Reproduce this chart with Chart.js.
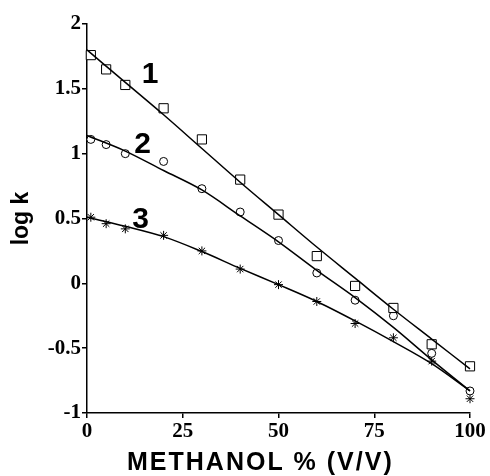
<!DOCTYPE html>
<html>
<head>
<meta charset="utf-8">
<script src="https://cdn.jsdelivr.net/npm/chart.js@4/dist/chart.umd.min.js"></script>
<style>
  html, body { margin: 0; padding: 0; background: #fff; }
  #wrap { width: 490px; height: 476px; }
</style>
</head>
<body>
<div id="wrap"><canvas id="myChart"></canvas></div>
<script>
// methanol % and measured log k for the three compounds
const methanol = [1, 5, 10, 20, 30, 40, 50, 60, 70, 80, 90, 100];
const logk1 = [1.76, 1.65, 1.53, 1.35, 1.11, 0.80, 0.53, 0.21, -0.02, -0.19, -0.47, -0.64];
const logk2 = [1.11, 1.07, 1.00, 0.94, 0.73, 0.55, 0.33, 0.08, -0.13, -0.25, -0.54, -0.83];
const logk3 = [0.51, 0.46, 0.42, 0.37, 0.25, 0.11, -0.01, -0.14, -0.31, -0.42, -0.60, -0.89];

// fitted curves
const fitX = [0, 10, 20, 30, 40, 50, 60, 70, 80, 90, 100];
const fit1 = [1.80, 1.55, 1.30, 1.04, 0.78, 0.53, 0.28, 0.04, -0.20, -0.43, -0.66];
const fit2 = [1.14, 1.02, 0.87, 0.72, 0.52, 0.32, 0.10, -0.11, -0.34, -0.59, -0.83];
const fit3 = [0.51, 0.44, 0.36, 0.245, 0.115, -0.01, -0.14, -0.29, -0.45, -0.62, -0.83];

const curveNames = ['1', '2', '3'];
const xTicks = [0, 25, 50, 75, 100];
const yTicks = [2, 1.5, 1, 0.5, 0, -0.5, -1];
const xTitle = 'METHANOL % (V/V)';
const yTitle = 'log k';

function pts(xs, ys) {
  return xs.map((x, i) => ({ x: x, y: ys[i] }));
}

const lineStyle = { showLine: true, borderColor: '#000', borderWidth: 1.5, pointRadius: 0, fill: false, cubicInterpolationMode: 'monotone', clip: false };
const markStyle = { showLine: false, borderColor: '#000', backgroundColor: '#fff', borderWidth: 1, clip: false };

// curve numbers (data coordinates) and the x axis title
const extraText = {
  id: 'extraText',
  afterDatasetsDraw(chart) {
    const c = chart.ctx;
    const xs = chart.scales.x, ys = chart.scales.y;
    const where = [[16.5, 1.61], [14.5, 1.07], [14, 0.49]];
    c.save();
    c.fillStyle = '#000';
    c.font = 'bold 30px "Liberation Sans", Arial, sans-serif';
    c.textAlign = 'center';
    c.textBaseline = 'middle';
    curveNames.forEach((t, i) => {
      c.fillText(t, xs.getPixelForValue(where[i][0]), ys.getPixelForValue(where[i][1]));
    });
    c.font = 'bold 25px "Liberation Sans", Arial, sans-serif';
    c.letterSpacing = '2px';
    c.textAlign = 'left';
    c.textBaseline = 'alphabetic';
    c.fillText(xTitle, 127, 470);
    c.restore();
  }
};

const tickFont = { family: '"Liberation Serif", "Times New Roman", serif', size: 21, weight: 'bold' };
const titleFont = { family: '"Liberation Sans", Arial, sans-serif', size: 23, weight: 'bold' };

new Chart(document.getElementById('myChart'), {
  type: 'scatter',
  data: {
    datasets: [
      Object.assign({ data: pts(fitX, fit1) }, lineStyle),
      Object.assign({ data: pts(fitX, fit2) }, lineStyle),
      Object.assign({ data: pts(fitX, fit3) }, lineStyle),
      Object.assign({ data: pts(methanol, logk1), pointStyle: 'rect', pointRadius: 6.5 }, markStyle),
      Object.assign({ data: pts(methanol, logk2), pointStyle: 'circle', pointRadius: 4 }, markStyle),
      Object.assign({ data: pts(methanol, logk3), pointStyle: 'star', pointRadius: 4.5, borderWidth: 2 }, markStyle)
    ]
  },
  options: {
    responsive: true,
    maintainAspectRatio: false,
    animation: false,
    layout: { padding: { top: 24, right: 20, left: 0, bottom: 0 } },
    plugins: {
      legend: { display: false },
      tooltip: { enabled: false }
    },
    scales: {
      x: {
        type: 'linear',
        min: 0,
        max: 100,
        afterBuildTicks: s => { s.ticks = xTicks.map(v => ({ value: v })); },
        ticks: { color: '#000', font: tickFont, padding: 1, callback: v => String(v) },
        grid: { drawOnChartArea: false, drawTicks: true, tickLength: 5, color: '#000', lineWidth: 1.5 },
        border: { display: true, color: '#000', width: 1.5 },
        afterFit: s => { s.height = 63; }
      },
      y: {
        type: 'linear',
        min: -1,
        max: 2,
        afterBuildTicks: s => { s.ticks = yTicks.map(v => ({ value: v })); },
        ticks: { color: '#000', font: tickFont, padding: 1, callback: v => String(v) },
        grid: { drawOnChartArea: false, drawTicks: true, tickLength: 5, color: '#000', lineWidth: 1.5 },
        border: { display: true, color: '#000', width: 1.5 },
        title: { display: true, text: yTitle, color: '#000', font: titleFont, padding: { top: 8, bottom: 0 } },
        afterFit: s => { s.width = 87; }
      }
    }
  },
  plugins: [extraText]
});
</script>
</body>
</html>
